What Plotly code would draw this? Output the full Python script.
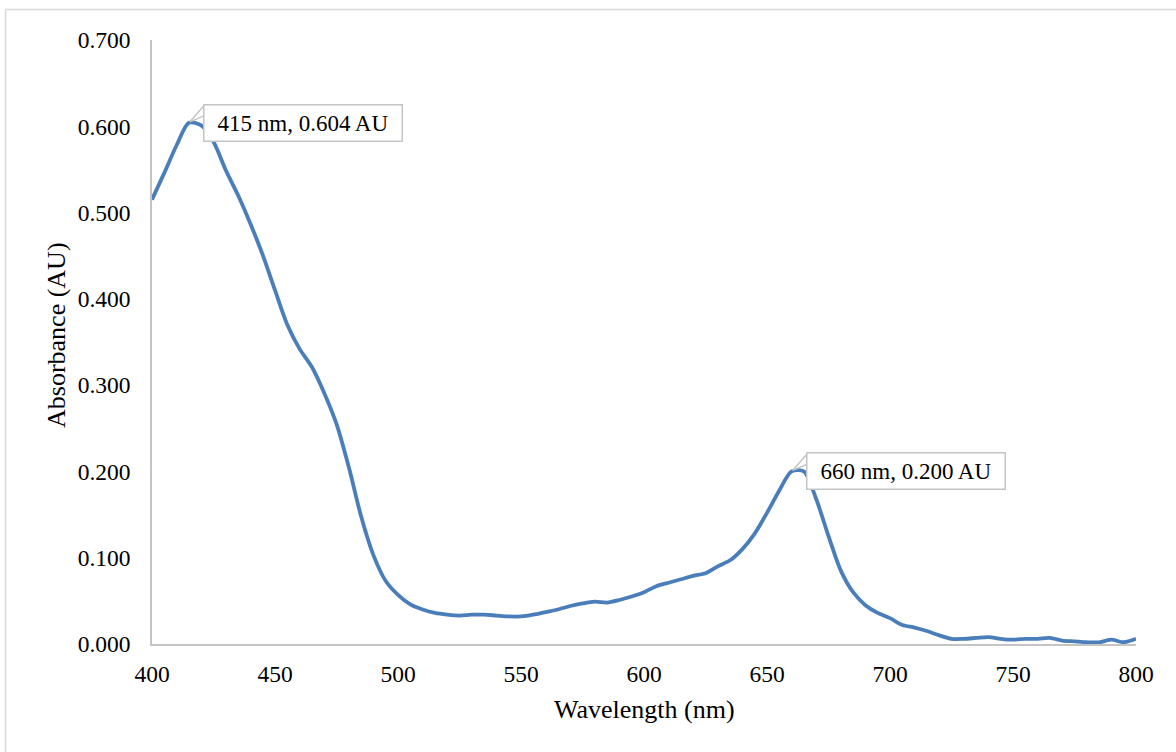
import plotly.graph_objects as go

wavelength = list(range(400, 805, 5))
absorbance = [
    0.515, 0.546, 0.578, 0.604, 0.601, 0.582, 0.549, 0.520, 0.487, 0.451,
    0.410, 0.370, 0.342, 0.321, 0.291, 0.255, 0.205, 0.148, 0.103, 0.073,
    0.057, 0.046, 0.040, 0.036, 0.034, 0.033, 0.034, 0.034, 0.033, 0.032,
    0.032, 0.034, 0.037, 0.040, 0.044, 0.047, 0.049, 0.048, 0.051, 0.055,
    0.060, 0.067, 0.071, 0.075, 0.079, 0.082, 0.090, 0.097, 0.110, 0.128,
    0.152, 0.178, 0.200, 0.200, 0.168, 0.125, 0.085, 0.060, 0.045, 0.036,
    0.030, 0.022, 0.019, 0.015, 0.010, 0.006, 0.006, 0.007, 0.008, 0.006,
    0.005, 0.006, 0.006, 0.007, 0.004, 0.003, 0.002, 0.002, 0.005, 0.002,
    0.006,
]
peak_x = [415, 660]
peak_y = [0.604, 0.200]
peak_labels = ["415 nm, 0.604 AU", "660 nm, 0.200 AU"]
x_ticks = [400, 450, 500, 550, 600, 650, 700, 750, 800]
y_ticks = [0.0, 0.1, 0.2, 0.3, 0.4, 0.5, 0.6, 0.7]

FONT = "Liberation Serif, Times New Roman, serif"
GRAY = "#c4c4c4"

fig = go.Figure()
fig.add_trace(go.Scatter(
    x=wavelength, y=absorbance, mode="lines",
    line=dict(color="#4a7ebb", width=3.8, shape="spline", smoothing=0.8),
    hoverinfo="skip", showlegend=False,
))

for px, py, txt in zip(peak_x, peak_y, peak_labels):
    fig.add_shape(
        type="path", xref="x", yref="y",
        xsizemode="pixel", ysizemode="pixel",
        xanchor=px, yanchor=py,
        path="M1,1 L15,17 L15,7 Z",
        line=dict(color=GRAY, width=1.5), fillcolor="white", layer="above",
    )
    fig.add_annotation(
        x=px, y=py, xref="x", yref="y", text=txt, showarrow=False,
        xanchor="left", yanchor="middle", xshift=14,
        font=dict(family=FONT, size=23, color="black"),
        bgcolor="white", bordercolor=GRAY, borderwidth=1.5, borderpad=1,
        width=195, height=33, align="center",
    )

# outer chart border (top and left visible)
L, R, T, B = 152, 40, 40, 108
W, H = 1176, 752
pw, ph = W - L - R, H - T - B
bx = (5.5 - L) / pw
by = (H - B - 9.5) / ph
fig.add_shape(type="line", xref="paper", yref="paper", x0=bx, x1=1.1, y0=by, y1=by,
              line=dict(color="#d9d9d9", width=1.5))
fig.add_shape(type="line", xref="paper", yref="paper", x0=bx, x1=bx, y0=by, y1=-0.3,
              line=dict(color="#d9d9d9", width=1.5))

fig.add_annotation(text="Absorbance (AU)", xref="paper", yref="paper",
                   x=(56 - L) / pw, y=(H - B - 335) / ph, textangle=-90,
                   showarrow=False, xanchor="center", yanchor="middle",
                   font=dict(family=FONT, size=26, color="black"))
fig.add_annotation(text="Wavelength (nm)", xref="paper", yref="paper",
                   x=0.5, y=(H - B - 709) / ph,
                   showarrow=False, xanchor="center", yanchor="middle",
                   font=dict(family=FONT, size=26, color="black"))

fig.update_layout(
    width=W, height=H, margin=dict(l=L, r=R, t=T, b=B),
    paper_bgcolor="white", plot_bgcolor="white",
    font=dict(family=FONT, size=23, color="black"),
    showlegend=False,
)
fig.update_xaxes(
    range=[400, 800], tickvals=x_ticks, ticktext=[str(v) for v in x_ticks],
    showgrid=False, zeroline=False, showline=True, linecolor=GRAY, linewidth=1.5,
    ticks="", ticklabelstandoff=8, tickfont=dict(family=FONT, size=23.5, color="black"),
)
fig.update_yaxes(
    range=[0, 0.7], tickvals=y_ticks, ticktext=[f"{v:.3f}" for v in y_ticks],
    showgrid=False, zeroline=False, showline=True, linecolor=GRAY, linewidth=1.5,
    ticks="", ticklabelstandoff=15, tickfont=dict(family=FONT, size=23.5, color="black"),
)

fig.write_html(
    "out.html",
    config={"displayModeBar": False},
    post_script="document.body.style.margin='0';document.body.style.overflow='hidden';",
)
